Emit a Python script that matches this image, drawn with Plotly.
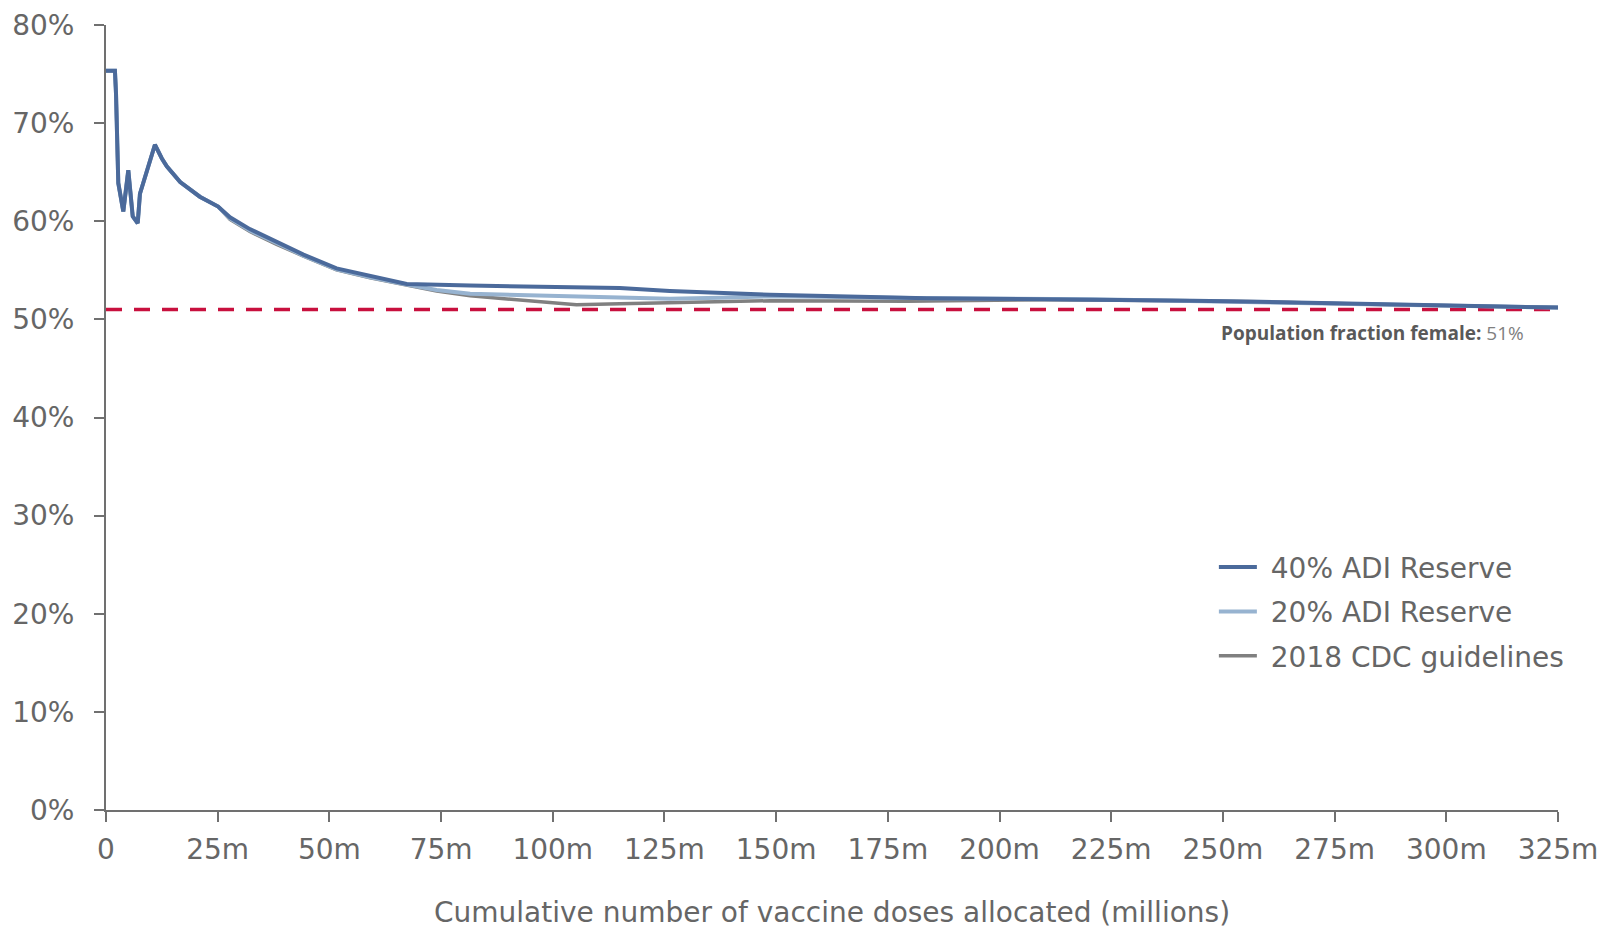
import plotly.graph_objects as go

# ---- data (millions of doses, % female) ----
adi40_x = [0, 2.0, 2.24, 2.53, 2.75, 3.87, 4.99, 5.98, 7.1, 7.6, 8.7, 9.85, 10.95, 12.5, 13.6, 16.6,
           21.0, 25.1, 27.75, 32.2, 38.2, 44.2, 51.6, 59.1, 67.3, 81.5, 96.4, 115, 126.2, 148.6,
           183.7, 220.9, 243.3, 258.3, 282.2, 325]
adi40_y = [75.35, 75.35, 73.0, 67.9, 63.9, 61.0, 65.2, 60.5, 59.8, 62.8, 64.5, 66.2, 67.8, 66.4, 65.6, 64.0,
           62.5, 61.5, 60.4, 59.2, 57.9, 56.6, 55.2, 54.4, 53.6, 53.45, 53.3, 53.2, 52.9, 52.5,
           52.15, 52.05, 51.9, 51.8, 51.55, 51.2]

adi20_x = [0, 2.0, 2.24, 2.53, 2.75, 3.87, 4.99, 5.98, 7.1, 7.6, 8.7, 9.85, 10.95, 12.5, 13.6, 16.6,
           21.0, 25.1, 27.75, 32.2, 38.2, 44.2, 51.6, 59.1, 67.3, 74.0, 81.5, 96.4, 111.3, 126.2,
           137.4, 148.6, 160, 183.7, 220.9, 243.3, 258.3, 282.2, 325]
adi20_y = [75.35, 75.35, 73.0, 67.9, 63.9, 61.0, 65.2, 60.5, 59.8, 62.8, 64.5, 66.2, 67.8, 66.4, 65.6, 64.0,
           62.5, 61.5, 60.3, 59.05, 57.75, 56.5, 55.1, 54.3, 53.55, 53.0, 52.6, 52.4, 52.25, 52.1,
           52.2, 52.35, 52.3, 52.15, 52.05, 51.9, 51.8, 51.55, 51.2]

cdc_x = [0, 2.0, 2.24, 2.53, 2.75, 3.87, 4.99, 5.98, 7.1, 7.6, 8.7, 9.85, 10.95, 12.5, 13.6, 16.6,
         21.0, 25.1, 27.75, 32.2, 38.2, 44.2, 51.6, 59.1, 67.3, 74.0, 81.5, 88.9, 100.1, 105.3, 115,
         126.2, 137.4, 148.6, 179.2, 210, 243.3, 258.3, 282.2, 325]
cdc_y = [75.35, 75.35, 73.0, 67.9, 63.9, 61.0, 65.2, 60.5, 59.8, 62.8, 64.5, 66.2, 67.8, 66.4, 65.6, 64.0,
         62.5, 61.5, 60.2, 58.95, 57.65, 56.45, 55.05, 54.25, 53.5, 52.9, 52.4, 52.1, 51.7, 51.5, 51.6,
         51.7, 51.8, 51.9, 51.85, 52.0, 51.9, 51.8, 51.55, 51.2]

pop_x = [0, 325]
pop_y = [51, 51]

x_tickvals = [0, 25, 50, 75, 100, 125, 150, 175, 200, 225, 250, 275, 300, 325]
x_ticktext = ["0", "25m", "50m", "75m", "100m", "125m", "150m", "175m", "200m", "225m",
              "250m", "275m", "300m", "325m"]
y_tickvals = [0, 10, 20, 30, 40, 50, 60, 70, 80]
y_ticktext = ["0%", "10%", "20%", "30%", "40%", "50%", "60%", "70%", "80%"]

FONT = "DejaVu Sans"
TXT = "#666666"
AX = "#707070"
FS = 28
NB = "\u00a0"

fig = go.Figure()
fig.add_trace(go.Scatter(x=pop_x, y=pop_y, mode="lines", showlegend=False, hoverinfo="skip",
                         line=dict(color="#c8103e", width=3.5, dash="16px,12px")))
fig.add_trace(go.Scatter(x=cdc_x, y=cdc_y, mode="lines", name=NB + "2018 CDC guidelines",
                         legendgroup="c", legendrank=3, line=dict(color="#808080", width=3.5)))
fig.add_trace(go.Scatter(x=adi20_x, y=adi20_y, mode="lines", name=NB + "20% ADI Reserve",
                         legendgroup="b", legendrank=2, line=dict(color="#97b3d0", width=4)))
fig.add_trace(go.Scatter(x=adi40_x, y=adi40_y, mode="lines", name=NB + "40% ADI Reserve",
                         legendgroup="a", legendrank=1, line=dict(color="#4b6a9b", width=4)))

fig.add_annotation(x=317.9, y=48.65, xref="x", yref="y", xanchor="right", yanchor="middle",
                   showarrow=False,
                   text="<b>Population fraction female:</b> <span style='color:#808080'>51%</span>",
                   font=dict(family="Open Sans", size=19, color="#595959"))

fig.update_layout(
    width=1614, height=928,
    margin=dict(l=98, r=64, t=17, b=126, autoexpand=False),
    paper_bgcolor="white", plot_bgcolor="white",
    font=dict(family=FONT, size=FS, color=TXT),
    legend=dict(x=0.763, y=0.341, xanchor="left", yanchor="top", traceorder="grouped",
                tracegroupgap=5, itemwidth=38,
                font=dict(family=FONT, size=FS, color=TXT), bgcolor="rgba(0,0,0,0)"),
    xaxis=dict(range=[0, 325], tickvals=x_tickvals, ticktext=x_ticktext, showgrid=False,
               automargin=False, ticklabeloverflow="allow",
               zeroline=False, showline=True, linecolor=AX, linewidth=2, ticks="outside",
               ticklen=10, tickwidth=2, tickcolor=AX, tickfont=dict(size=FS, color=TXT),
               ticklabelstandoff=3,
               title=dict(text="Cumulative number of vaccine doses allocated (millions)",
                          font=dict(size=FS, color=TXT), standoff=38)),
    yaxis=dict(range=[0, 80], tickvals=y_tickvals, ticktext=y_ticktext, showgrid=False,
               automargin=False, ticklabeloverflow="allow",
               zeroline=False, showline=True, linecolor=AX, linewidth=2, ticks="outside",
               ticklen=10, tickwidth=2, tickcolor=AX, tickfont=dict(size=FS, color=TXT),
               ticklabelstandoff=14),
)

fig.write_html("out.html")
